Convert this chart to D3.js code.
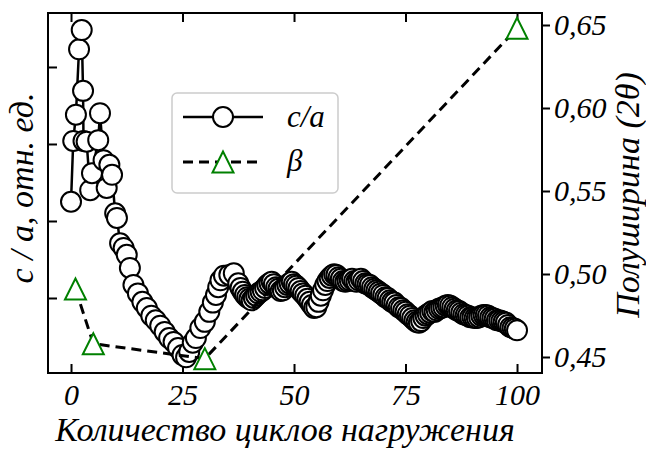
<!DOCTYPE html>
<meta charset="utf-8">
<html>
<head>
<script src="https://d3js.org/d3.v7.min.js"></script>
</head>
<body style="margin:0">
<script>
// number of loading cycles and c/a (relative units)
var caCycles = [0, 0.5, 1.1, 1.8, 2.4, 2.7, 2.8, 3.5, 4.3, 4.7, 6.1, 6.5, 7.3, 8.0, 8.6, 9.2, 9.9,
    10.3, 11.0, 11.8, 12.5, 13.2, 14, 15, 16, 17, 18, 19, 20, 21, 22, 23, 24, 25, 25.8, 26.5, 27.3,
    28, 29, 30, 31, 31.8, 32.5, 33, 33.5, 34.3, 35.5, 36.5, 37.5,
    38, 38.5, 39, 39.5, 40, 40.5, 41, 41.5, 42, 42.5, 43, 43.5, 44, 44.5, 45, 45.5, 46, 46.5, 47, 47.5,
    48, 48.5, 49, 49.5, 50, 50.5, 51, 51.5, 52, 52.5, 53, 53.5, 54, 54.5, 55, 55.5, 56, 56.5, 57, 57.5,
    58, 58.5, 59, 59.5, 60, 60.5, 61, 61.5, 62, 62.5, 63, 63.5, 64, 64.5, 65, 65.5, 66, 66.5, 67, 67.5,
    68, 68.5, 69, 69.5, 70, 70.5, 71, 71.5, 72, 72.5, 73, 73.5, 74, 74.5, 75, 75.5, 76, 76.5, 77, 77.5,
    78, 78.5, 79, 79.5, 80, 80.5, 81, 81.5, 82, 82.5, 83, 83.5, 84, 84.5, 85, 85.5, 86, 86.5, 87, 87.5,
    88, 88.5, 89, 89.5, 90, 90.5, 91, 91.5, 92, 92.5, 93, 93.5, 94, 94.5, 95, 95.5, 96, 96.5, 97, 97.5,
    98, 98.5, 99, 99.5, 100];
var caValues = [1.0125, 1.0204, 1.0238, 1.0323, 1.0348, 1.0269, 1.0204, 1.0203, 1.0140, 1.0162,
    1.0205, 1.0240, 1.0179, 1.0143, 1.0173, 1.0160, 1.0110, 1.0104, 1.0071, 1.0065, 1.0056, 1.0039,
    1.0017, 1.0006, 0.9995, 0.9987, 0.9977, 0.9971, 0.9964, 0.9956, 0.9948, 0.9943, 0.9935, 0.9926,
    0.9923, 0.9930, 0.9942, 0.9948, 0.9961, 0.9969, 0.9982, 0.9994, 1.0004, 1.0014, 1.0023, 1.0029,
    1.0030, 1.0032, 1.0019,
    1.0013, 1.0008, 1.0004, 1.0001, 0.9999, 0.9997, 1.0000, 1.0003, 1.0006, 1.0008, 1.0010, 1.0013,
    1.0017, 1.0019, 1.0021, 1.0018, 1.0014, 1.0012, 1.0009, 1.0010, 1.0014, 1.0017, 1.0019, 1.0021,
    1.0018, 1.0016, 1.0013, 1.0009, 1.0006, 1.0003, 0.9999, 0.9995, 0.9991, 0.9987, 0.9988, 0.9995,
    1.0003, 1.0010, 1.0017, 1.0022, 1.0026, 1.0029, 1.0031, 1.0030, 1.0027, 1.0025, 1.0022, 1.0021,
    1.0022, 1.0023, 1.0025, 1.0022, 1.0021, 1.0023, 1.0025, 1.0022, 1.0019, 1.0018, 1.0017, 1.0014,
    1.0012, 1.0010, 1.0008, 1.0006, 1.0004, 1.0001, 1.0000, 0.9997, 0.9995, 0.9994, 0.9991, 0.9988,
    0.9987, 0.9984, 0.9982, 0.9979, 0.9977, 0.9974, 0.9971, 0.9969, 0.9968, 0.9970, 0.9974, 0.9977,
    0.9979, 0.9981, 0.9983, 0.9982, 0.9984, 0.9986, 0.9987, 0.9988, 0.9990, 0.9991, 0.9990, 0.9988,
    0.9986, 0.9984, 0.9983, 0.9981, 0.9979, 0.9978, 0.9977, 0.9975, 0.9975, 0.9974, 0.9974, 0.9975,
    0.9977, 0.9978, 0.9978, 0.9977, 0.9975, 0.9974, 0.9973, 0.9971, 0.9971, 0.9970, 0.9969, 0.9968,
    0.9965, 0.9962, 0.9961, 0.9960, 0.9958];

// half-width beta (2 theta)
var betaCycles = [1, 5, 30, 100];
var betaValues = [0.491, 0.458, 0.449, 0.648];

var xTicks = [0, 25, 50, 75, 100];
var leftTicks = [1.00, 1.01, 1.02, 1.03];
var rightTicks = [0.45, 0.50, 0.55, 0.60, 0.65];

var W = 646, H = 450;
var L = 48, R = 542, T = 13, B = 373;
var FONT = "'Liberation Serif', 'Tinos', 'Times New Roman', 'DejaVu Serif', 'Noto Serif'";

var svg = d3.select("body").append("svg").attr("width", W).attr("height", H)
    .attr("font-family", FONT).attr("font-style", "italic");

var x = d3.scaleLinear().domain([-5.16, 105.6]).range([L, R]);
var yL = d3.scaleLinear().domain([0.99026, 1.03701]).range([B, T]);
var yR = d3.scaleLinear().domain([0.44036, 0.65723]).range([B, T]);

var comma = function(d) { return d3.format(".2f")(d).replace(".", ","); };

function styleAxis(g) {
    g.attr("font-family", null).attr("font-size", null);
    g.select(".domain").remove();
    g.selectAll("line").attr("stroke", "#000").attr("stroke-width", 2);
    g.selectAll("text").attr("fill", "#000")
        .style("font-family", FONT, "important").style("font-style", "italic")
        .style("font-size", "30px");
}

// axes
svg.append("g").attr("transform", "translate(0," + B + ")")
    .call(d3.axisBottom(x).tickValues(xTicks).tickSizeInner(-9).tickSizeOuter(0).tickPadding(11))
    .call(styleAxis);
svg.append("g").attr("transform", "translate(0," + T + ")")
    .call(d3.axisTop(x).tickValues(xTicks).tickSize(-9).tickFormat(""))
    .call(styleAxis);
svg.append("g").attr("transform", "translate(" + L + ",0)")
    .call(d3.axisLeft(yL).tickValues(leftTicks).tickSize(-9).tickFormat(""))
    .call(styleAxis);
svg.append("g").attr("transform", "translate(" + R + ",0)")
    .call(d3.axisRight(yR).tickValues(rightTicks).tickSizeInner(8).tickSizeOuter(0).tickPadding(4).tickFormat(comma))
    .call(styleAxis);

var plot = svg.append("g");

// c/a series
var caData = caCycles.map(function(c, i) { return [c, caValues[i]]; });
var caLine = d3.line().x(function(d) { return x(d[0]); }).y(function(d) { return yL(d[1]); });
plot.append("path").datum(caData).attr("d", caLine)
    .attr("fill", "none").attr("stroke", "#000").attr("stroke-width", 2.5);
plot.selectAll("circle.ca").data(caData).enter().append("circle")
    .attr("class", "ca")
    .attr("cx", function(d) { return x(d[0]); })
    .attr("cy", function(d) { return yL(d[1]); })
    .attr("r", 10).attr("fill", "#fff").attr("stroke", "#000").attr("stroke-width", 2);

// beta series
var tri = function(s) { return "M0," + (-s) + "L" + (-s) + "," + s + "L" + s + "," + s + "Z"; };
var betaData = betaCycles.map(function(c, i) { return [c, betaValues[i]]; });
var betaLine = d3.line().x(function(d) { return x(d[0]); }).y(function(d) { return yR(d[1]); });
plot.append("path").datum(betaData).attr("d", betaLine)
    .attr("fill", "none").attr("stroke", "#000").attr("stroke-width", 3).attr("stroke-dasharray", "10,6");
plot.selectAll("path.beta").data(betaData).enter().append("path")
    .attr("class", "beta")
    .attr("transform", function(d) { return "translate(" + x(d[0]) + "," + yR(d[1]) + ")"; })
    .attr("d", tri(10.5)).attr("fill", "#fff").attr("stroke", "#008000").attr("stroke-width", 2);

// frame
svg.append("rect").attr("x", L).attr("y", T).attr("width", R - L).attr("height", B - T)
    .attr("fill", "none").attr("stroke", "#000").attr("stroke-width", 2);

function label(sel, size) {
    return sel.style("font-family", FONT, "important").style("font-style", "italic")
        .style("font-size", size + "px").attr("fill", "#000");
}

// axis labels
label(svg.append("text"), 34).attr("x", 285).attr("y", 441).attr("text-anchor", "middle")
    .text("Количество циклов нагружения");
label(svg.append("text"), 34).attr("transform", "translate(33,188) rotate(-90)").attr("text-anchor", "middle")
    .text("c / a, отн. ед.");
label(svg.append("text"), 34).attr("transform", "translate(639,195) rotate(-90)").attr("text-anchor", "middle")
    .text("Полуширина (2θ)");

// legend
var lg = svg.append("g");
lg.append("rect").attr("x", 172).attr("y", 93).attr("width", 166).attr("height", 100).attr("rx", 5)
    .attr("fill", "#fff").attr("stroke", "#ccc").attr("stroke-width", 1.5);
lg.append("line").attr("x1", 183).attr("x2", 263).attr("y1", 117).attr("y2", 117)
    .attr("stroke", "#000").attr("stroke-width", 2.5);
lg.append("circle").attr("cx", 223).attr("cy", 117).attr("r", 10)
    .attr("fill", "#fff").attr("stroke", "#000").attr("stroke-width", 2);
label(lg.append("text"), 31).attr("x", 287).attr("y", 127).text("c/a");
lg.append("line").attr("x1", 183).attr("x2", 263).attr("y1", 162).attr("y2", 162)
    .attr("stroke", "#000").attr("stroke-width", 3).attr("stroke-dasharray", "10,6");
lg.append("path").attr("transform", "translate(223,162)").attr("d", tri(10.5))
    .attr("fill", "#fff").attr("stroke", "#008000").attr("stroke-width", 2);
label(lg.append("text"), 31).attr("x", 287).attr("y", 171).text("β");
</script>
</body>
</html>
